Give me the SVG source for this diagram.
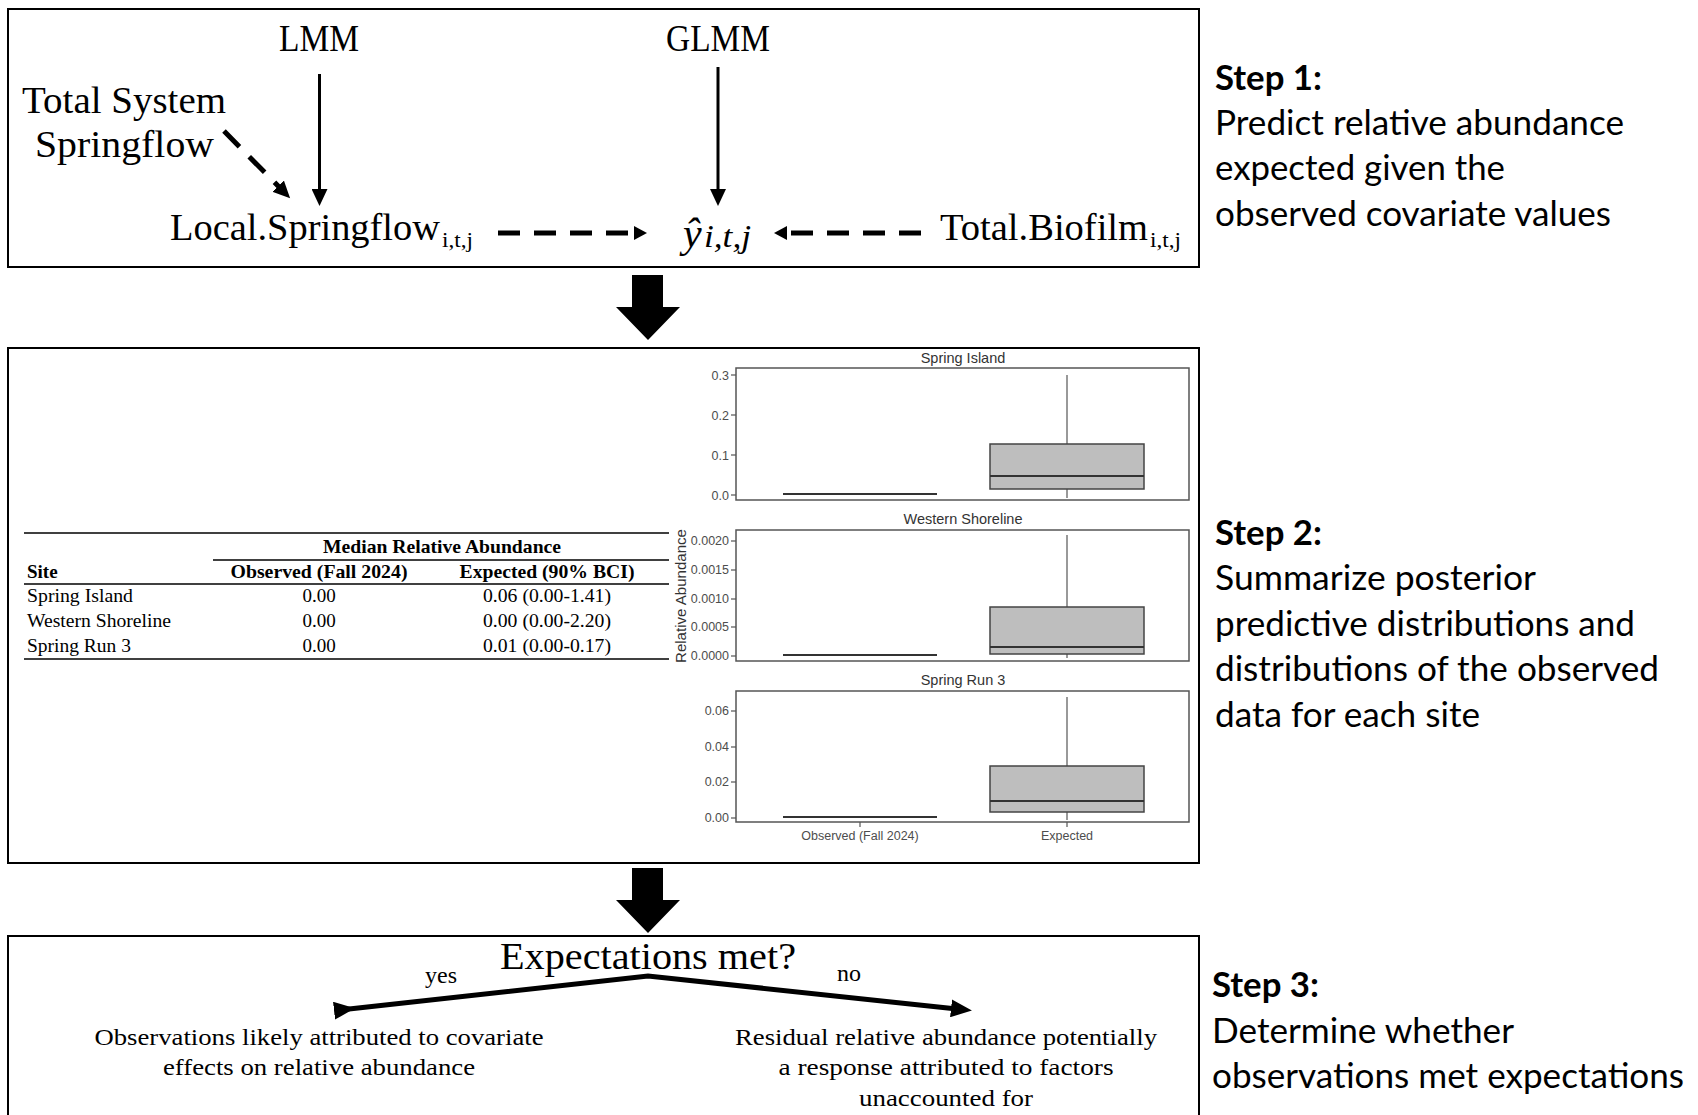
<svg xmlns="http://www.w3.org/2000/svg" width="1698" height="1115" viewBox="0 0 1698 1115">
<style>
.frame{fill:none;stroke:#000;stroke-width:2}
.serif{font-family:"Liberation Serif","DejaVu Serif",serif;fill:#000}
.step{font-family:Lato,"Open Sans","Liberation Sans",sans-serif;font-size:35px;fill:#000}
.stepb{font-weight:bold}
.tbl{font-family:"Liberation Serif","Times New Roman",serif;font-size:19px;fill:#000}
.tblb{font-weight:bold}
.rule{stroke:#000;stroke-width:1.3}
.plt{font-family:"Liberation Sans",Arial,sans-serif;fill:#333}
.tick{font-family:"Liberation Sans",Arial,sans-serif;font-size:12.5px;fill:#4d4d4d;text-anchor:end}
.panel{fill:#fff;stroke:#555;stroke-width:1.5}
.tm{stroke:#555;stroke-width:1.2}
.bx{fill:#bebebe;stroke:#444;stroke-width:1.5}
.wh{stroke:#555;stroke-width:1.2}
.med{stroke:#333;stroke-width:2.2}
.solid{stroke:#000;stroke-width:3;fill:none}
.dash{stroke:#000;stroke-width:5;fill:none;stroke-dasharray:22 14}
.thick{stroke:#000;stroke-width:5;fill:none}
</style>
<defs>
<marker id="ah" markerUnits="userSpaceOnUse" markerWidth="18" markerHeight="16" refX="4" refY="8" orient="auto">
<path d="M0,0 L17,8 L0,16 z" fill="#000"/>
</marker>
<marker id="ahs" markerUnits="userSpaceOnUse" markerWidth="14" markerHeight="14" refX="1" refY="7" orient="auto">
<path d="M0,0 L13,7 L0,14 z" fill="#000"/>
</marker>
<marker id="ahb" markerUnits="userSpaceOnUse" markerWidth="22" markerHeight="18" refX="6" refY="9" orient="auto">
<path d="M0,0 L21,9 L0,18 z" fill="#000"/>
</marker>
</defs>
<rect width="1698" height="1115" fill="#fff"/>

<!-- Step 1 frame -->
<g id="step1-box">
<rect class="frame" x="8" y="9" width="1191" height="258"/>
</g>
<g id="node-lmm"><text class="serif" x="319" y="51" font-size="37" text-anchor="middle" textLength="80" lengthAdjust="spacingAndGlyphs">LMM</text></g>
<g id="node-glmm"><text class="serif" x="718" y="51" font-size="37" text-anchor="middle" textLength="104" lengthAdjust="spacingAndGlyphs">GLMM</text></g>
<g id="node-totalsystem">
<text class="serif" x="22" y="113" font-size="37" textLength="204" lengthAdjust="spacingAndGlyphs">Total System</text>
<text class="serif" x="35" y="157" font-size="37" textLength="179" lengthAdjust="spacingAndGlyphs">Springflow</text>
</g>
<g id="node-localspringflow">
<text class="serif" x="170" y="240" font-size="37" textLength="270" lengthAdjust="spacingAndGlyphs">Local.Springflow</text>
<text class="serif" x="442" y="247" font-size="22" textLength="31" lengthAdjust="spacingAndGlyphs">i,t,j</text>
</g>
<g id="node-yhat">
<text class="serif" x="683" y="247" font-size="42" font-style="italic">ŷ</text>
<text class="serif" x="704" y="247" font-size="32" font-style="italic" textLength="47" lengthAdjust="spacingAndGlyphs">i,t,j</text>
</g>
<g id="node-biofilm">
<text class="serif" x="940" y="240" font-size="37" textLength="208" lengthAdjust="spacingAndGlyphs">Total.Biofilm</text>
<text class="serif" x="1150" y="247" font-size="22" textLength="31" lengthAdjust="spacingAndGlyphs">i,t,j</text>
</g>
<g id="step1-text">
<text class="step stepb" x="1215" y="90" textLength="107" lengthAdjust="spacingAndGlyphs">Step 1:</text>
<text class="step" x="1215" y="135" textLength="409" lengthAdjust="spacingAndGlyphs">Predict relative abundance</text>
<text class="step" x="1215" y="180" textLength="290" lengthAdjust="spacingAndGlyphs">expected given the</text>
<text class="step" x="1215" y="226" textLength="396" lengthAdjust="spacingAndGlyphs">observed covariate values</text>
</g>

<!-- Step 2 frame -->
<g id="step2-box">
<rect class="frame" x="8" y="348" width="1191" height="515"/>
</g>
<g id="table">
<line class="rule" x1="24" y1="533" x2="669" y2="533"/>
<text class="tbl tblb" x="442" y="553" text-anchor="middle" textLength="238" lengthAdjust="spacingAndGlyphs">Median Relative Abundance</text>
<line class="rule" x1="213" y1="560" x2="669" y2="560"/>
<text class="tbl tblb" x="27" y="578">Site</text>
<text class="tbl tblb" x="319" y="578" text-anchor="middle" textLength="177" lengthAdjust="spacingAndGlyphs">Observed (Fall 2024)</text>
<text class="tbl tblb" x="547" y="578" text-anchor="middle" textLength="175" lengthAdjust="spacingAndGlyphs">Expected (90% BCI)</text>
<line class="rule" x1="24" y1="584" x2="669" y2="584"/>
<text class="tbl" x="27" y="602" textLength="106" lengthAdjust="spacingAndGlyphs">Spring Island</text>
<text class="tbl" x="319" y="602" text-anchor="middle">0.00</text>
<text class="tbl" x="547" y="602" text-anchor="middle" textLength="128" lengthAdjust="spacingAndGlyphs">0.06 (0.00-1.41)</text>
<text class="tbl" x="27" y="627" textLength="144" lengthAdjust="spacingAndGlyphs">Western Shoreline</text>
<text class="tbl" x="319" y="627" text-anchor="middle">0.00</text>
<text class="tbl" x="547" y="627" text-anchor="middle" textLength="128" lengthAdjust="spacingAndGlyphs">0.00 (0.00-2.20)</text>
<text class="tbl" x="27" y="652" textLength="104" lengthAdjust="spacingAndGlyphs">Spring Run 3</text>
<text class="tbl" x="319" y="652" text-anchor="middle">0.00</text>
<text class="tbl" x="547" y="652" text-anchor="middle" textLength="128" lengthAdjust="spacingAndGlyphs">0.01 (0.00-0.17)</text>
<line class="rule" x1="24" y1="659" x2="669" y2="659"/>
</g>

<g id="plot">
<text class="plt" x="686" y="596" font-size="14.5" text-anchor="middle" transform="rotate(-90 686 596)" textLength="134" lengthAdjust="spacingAndGlyphs">Relative Abundance</text>
<!-- panel 1 -->
<text class="plt" x="963" y="363" font-size="14.5" text-anchor="middle">Spring Island</text>
<rect class="panel" x="736" y="368" width="453" height="132"/>
<g class="tm"><line x1="731" y1="375" x2="736" y2="375"/><line x1="731" y1="415" x2="736" y2="415"/><line x1="731" y1="455" x2="736" y2="455"/><line x1="731" y1="495" x2="736" y2="495"/></g>
<text class="tick" x="729" y="380">0.3</text><text class="tick" x="729" y="420">0.2</text><text class="tick" x="729" y="460">0.1</text><text class="tick" x="729" y="500">0.0</text>
<line class="med" x1="783" y1="494" x2="937" y2="494"/>
<line class="wh" x1="1067" y1="375" x2="1067" y2="498"/>
<rect class="bx" x="990" y="444" width="154" height="45"/>
<line class="med" x1="990" y1="476" x2="1144" y2="476"/>
<!-- panel 2 -->
<text class="plt" x="963" y="524" font-size="14.5" text-anchor="middle">Western Shoreline</text>
<rect class="panel" x="736" y="530" width="453" height="131"/>
<g class="tm"><line x1="731" y1="541" x2="736" y2="541"/><line x1="731" y1="570" x2="736" y2="570"/><line x1="731" y1="599" x2="736" y2="599"/><line x1="731" y1="627" x2="736" y2="627"/><line x1="731" y1="656" x2="736" y2="656"/></g>
<text class="tick" x="729" y="545">0.0020</text><text class="tick" x="729" y="574">0.0015</text><text class="tick" x="729" y="603">0.0010</text><text class="tick" x="729" y="631">0.0005</text><text class="tick" x="729" y="660">0.0000</text>
<line class="med" x1="783" y1="655" x2="937" y2="655"/>
<line class="wh" x1="1067" y1="535" x2="1067" y2="658"/>
<rect class="bx" x="990" y="607" width="154" height="47"/>
<line class="med" x1="990" y1="647" x2="1144" y2="647"/>
<!-- panel 3 -->
<text class="plt" x="963" y="685" font-size="14.5" text-anchor="middle">Spring Run 3</text>
<rect class="panel" x="736" y="691" width="453" height="131"/>
<g class="tm"><line x1="731" y1="711" x2="736" y2="711"/><line x1="731" y1="747" x2="736" y2="747"/><line x1="731" y1="782" x2="736" y2="782"/><line x1="731" y1="818" x2="736" y2="818"/>
<line x1="860" y1="822" x2="860" y2="827"/><line x1="1067" y1="822" x2="1067" y2="827"/></g>
<text class="tick" x="729" y="715">0.06</text><text class="tick" x="729" y="751">0.04</text><text class="tick" x="729" y="786">0.02</text><text class="tick" x="729" y="822">0.00</text>
<line class="med" x1="783" y1="817" x2="937" y2="817"/>
<line class="wh" x1="1067" y1="697" x2="1067" y2="820"/>
<rect class="bx" x="990" y="766" width="154" height="46"/>
<line class="med" x1="990" y1="801" x2="1144" y2="801"/>
<text class="tick" x="860" y="840" style="text-anchor:middle">Observed (Fall 2024)</text>
<text class="tick" x="1067" y="840" style="text-anchor:middle">Expected</text>
</g>

<g id="step2-text">
<text class="step stepb" x="1215" y="545" textLength="107" lengthAdjust="spacingAndGlyphs">Step 2:</text>
<text class="step" x="1215" y="590" textLength="321" lengthAdjust="spacingAndGlyphs">Summarize posterior</text>
<text class="step" x="1215" y="636" textLength="420" lengthAdjust="spacingAndGlyphs">predictive distributions and</text>
<text class="step" x="1215" y="681" textLength="444" lengthAdjust="spacingAndGlyphs">distributions of the observed</text>
<text class="step" x="1215" y="727" textLength="265" lengthAdjust="spacingAndGlyphs">data for each site</text>
</g>

<!-- Step 3 frame -->
<g id="step3-box">
<rect class="frame" x="8" y="936" width="1191" height="200"/>
</g>
<g id="node-expectations"><text class="serif" x="648" y="969" font-size="38" text-anchor="middle" textLength="296" lengthAdjust="spacingAndGlyphs">Expectations met?</text></g>
<g id="node-yes-outcome">
<text class="serif" x="319" y="1045" font-size="24" text-anchor="middle" textLength="449" lengthAdjust="spacingAndGlyphs">Observations likely attributed to covariate</text>
<text class="serif" x="319" y="1075" font-size="24" text-anchor="middle" textLength="312" lengthAdjust="spacingAndGlyphs">effects on relative abundance</text>
</g>
<g id="node-no-outcome">
<text class="serif" x="946" y="1045" font-size="24" text-anchor="middle" textLength="422" lengthAdjust="spacingAndGlyphs">Residual relative abundance potentially</text>
<text class="serif" x="946" y="1075" font-size="24" text-anchor="middle" textLength="335" lengthAdjust="spacingAndGlyphs">a response attributed to factors</text>
<text class="serif" x="946" y="1106" font-size="24" text-anchor="middle" textLength="174" lengthAdjust="spacingAndGlyphs">unaccounted for</text>
</g>
<g id="step3-text">
<text class="step stepb" x="1212" y="997" textLength="107" lengthAdjust="spacingAndGlyphs">Step 3:</text>
<text class="step" x="1212" y="1043" textLength="302" lengthAdjust="spacingAndGlyphs">Determine whether</text>
<text class="step" x="1212" y="1088" textLength="472" lengthAdjust="spacingAndGlyphs">observations met expectations</text>
</g>

<g id="connectors">
<line class="solid" x1="319.5" y1="74" x2="319.5" y2="193" marker-end="url(#ah)"/>
<line class="solid" x1="718" y1="67" x2="718" y2="193" marker-end="url(#ah)"/>
<line class="dash" x1="224" y1="131" x2="281" y2="189" stroke-dasharray="18 12" marker-end="url(#ah)"/>
<line class="dash" x1="498" y1="233" x2="635" y2="233" marker-end="url(#ahs)"/>
<line class="dash" x1="921" y1="233" x2="786" y2="233" marker-end="url(#ahs)"/>
<polygon points="632,275 663,275 663,307 680,307 648,340 616,307 632,307" fill="#000"/>
<polygon points="632,868 663,868 663,900 680,900 648,933 616,900 632,900" fill="#000"/>
<polyline class="thick" points="340,1010 648,976 957,1009" marker-start="url(#ahb)" marker-end="url(#ahb)"/>
<text class="serif" x="441" y="983" font-size="24" text-anchor="middle">yes</text>
<text class="serif" x="849" y="981" font-size="24" text-anchor="middle">no</text>
</g>
</svg>
